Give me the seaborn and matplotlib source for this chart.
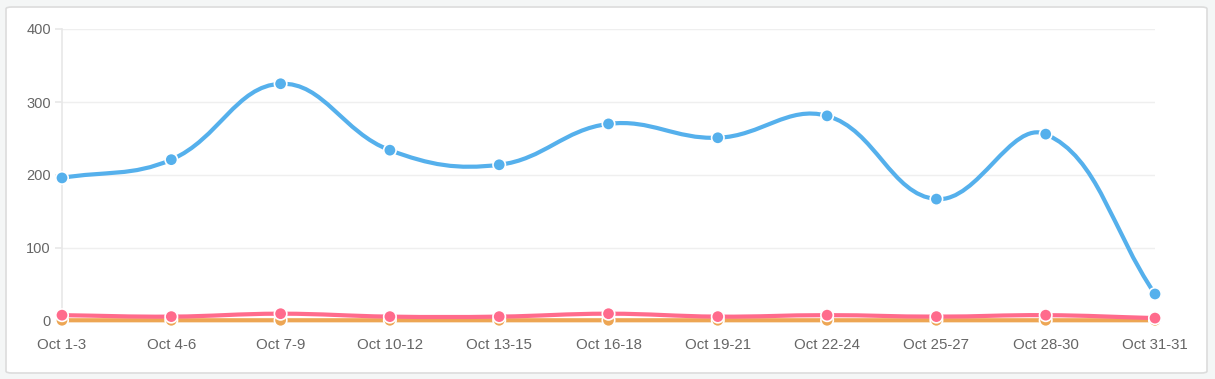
import numpy as np
import pandas as pd
import matplotlib
matplotlib.use("Agg")
import matplotlib.pyplot as plt
import seaborn as sns
from matplotlib.path import Path
from matplotlib.patches import PathPatch, FancyBboxPatch

# dati
periods = ["Oct 1-3", "Oct 4-6", "Oct 7-9", "Oct 10-12", "Oct 13-15", "Oct 16-18",
           "Oct 19-21", "Oct 22-24", "Oct 25-27", "Oct 28-30", "Oct 31-31"]
blue_vals = [196, 221, 325, 234, 214, 270, 251, 281, 167, 256, 37]
pink_vals = [8, 6, 10, 6, 6, 10, 6, 8, 6, 8, 4]
orange_vals = [1, 1, 1, 1, 1, 1, 1, 1, 1, 1, 1]

# ordine di disegno: orange sotto, blue sopra
series = {"orange": orange_vals, "pink": pink_vals, "blue": blue_vals}
colors = {"blue": "#55b0ec", "pink": "#ff6b8c", "orange": "#eda654"}

sns.set_theme(style="white")
plt.rcParams["font.family"] = ["Liberation Sans", "DejaVu Sans"]

fig = plt.figure(figsize=(12.15, 3.79), dpi=100)
fig.patch.set_facecolor("#f4f6f6")
card = FancyBboxPatch((6 / 1215, 6 / 379), 1201 / 1215, 366 / 379,
                      boxstyle="round,pad=0,rounding_size=0.005",
                      transform=fig.transFigure, facecolor="white",
                      edgecolor="#dcdcdc", linewidth=1.2, zorder=-5)
fig.patches.append(card)

ax = fig.add_axes([62 / 1215, 1 - 321 / 379, (1155 - 62) / 1215, (321 - 29) / 379])
ax.set_facecolor("none")
ax.set_xlim(0, len(periods) - 1)
ax.set_ylim(0, 400)

x = np.arange(len(periods))
rows = []
for name, vals in series.items():
    for xi, v in zip(x, vals):
        rows.append({"x": xi, "y": v, "serie": name})
df = pd.DataFrame(rows)


def smooth_path(xs, ys, tension=0.4):
    # curva di bezier tipo chart.js, punti di controllo in spazio pixel
    pts = ax.transData.transform(np.column_stack([xs, ys]))
    n = len(pts)
    verts = [pts[0]]
    codes = [Path.MOVETO]
    ctrl_prev, ctrl_next = [], []
    for i in range(n):
        p0 = pts[max(i - 1, 0)]
        p1 = pts[i]
        p2 = pts[min(i + 1, n - 1)]
        d01 = np.hypot(*(p1 - p0))
        d12 = np.hypot(*(p2 - p1))
        tot = d01 + d12 if d01 + d12 > 0 else 1
        fa = tension * d01 / tot
        fb = tension * d12 / tot
        ctrl_prev.append(p1 - fa * (p2 - p0))
        ctrl_next.append(p1 + fb * (p2 - p0))
    for i in range(1, n):
        verts += [ctrl_next[i - 1], ctrl_prev[i], pts[i]]
        codes += [Path.CURVE4] * 3
    inv = ax.transData.inverted()
    return Path(inv.transform(np.array(verts)), codes)


for k, name in enumerate(series):
    p = PathPatch(smooth_path(x, series[name]), facecolor="none", edgecolor=colors[name],
                  linewidth=3.0, capstyle="round", joinstyle="round",
                  clip_on=False, zorder=3 + 0.1 * k)
    ax.add_patch(p)

sns.scatterplot(data=df, x="x", y="y", hue="serie", palette=colors,
                hue_order=list(series), s=80, edgecolor="white",
                linewidth=1.2, legend=False, ax=ax, clip_on=False, zorder=4)

ax.set_yticks([0, 100, 200, 300, 400])
ax.set_xticks(x)
ax.set_xticklabels(periods)
ax.set_xlabel("")
ax.set_ylabel("")
ax.grid(axis="y", color="#efefef", linewidth=1)
for s in ["top", "right", "bottom"]:
    ax.spines[s].set_visible(False)
ax.spines["left"].set_color("#e8e8e8")
ax.tick_params(axis="y", length=5, color="#e8e8e8", labelsize=10.5,
               labelcolor="#666666", pad=3, left=True)
ax.tick_params(axis="x", length=0, labelsize=10.8, labelcolor="#666666", pad=12)

fig.savefig("out.png", dpi=100, facecolor=fig.get_facecolor())
